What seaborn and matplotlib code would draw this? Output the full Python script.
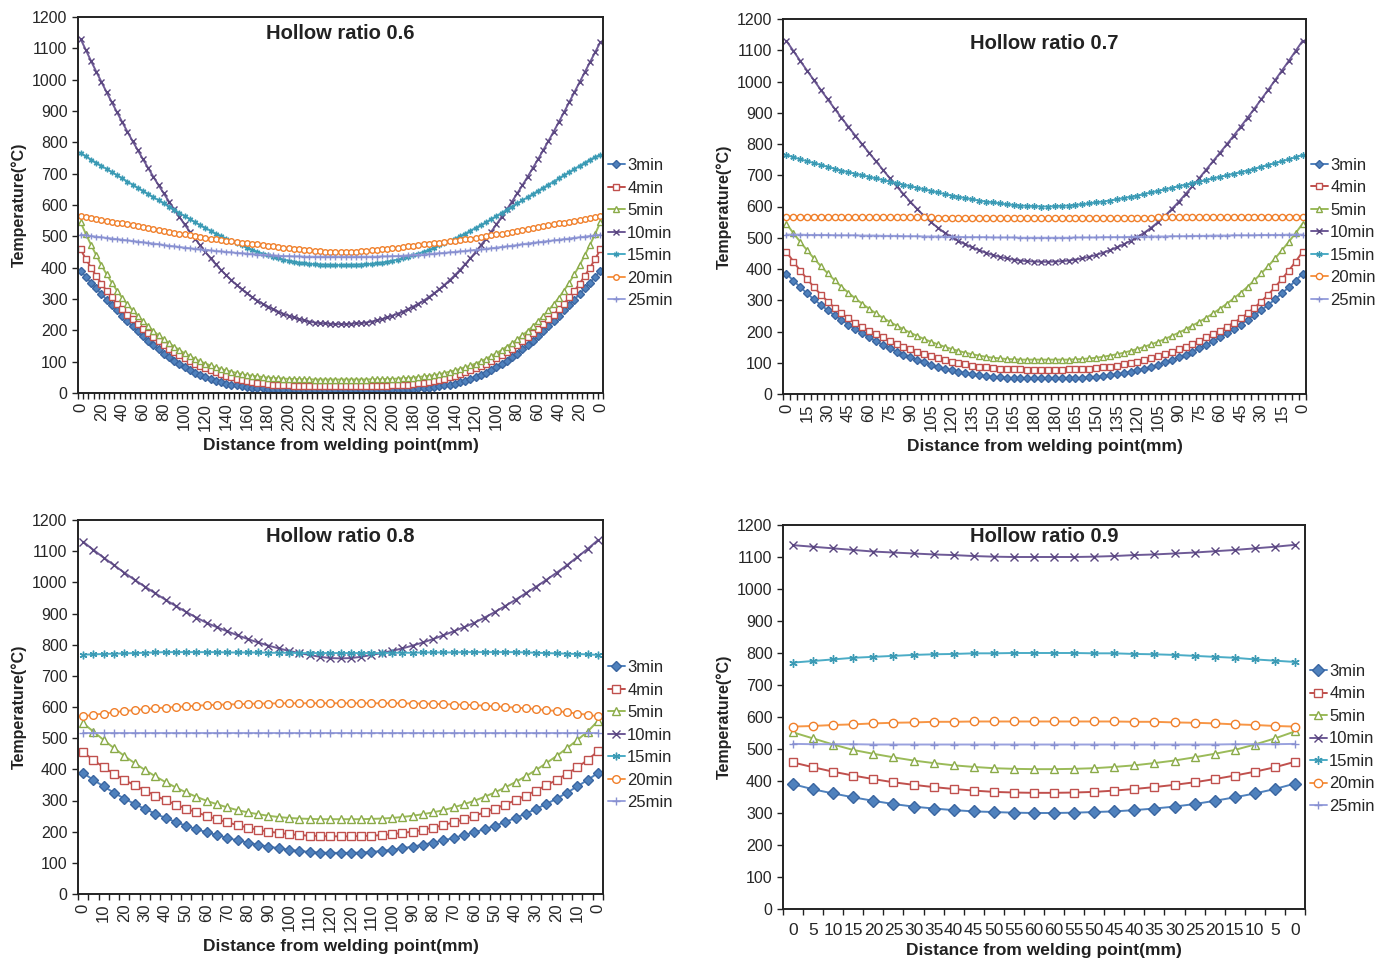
import matplotlib
matplotlib.use('Agg')
import matplotlib.pyplot as plt
import numpy as np
import seaborn as sns

times = ['3min', '4min', '5min', '10min', '15min', '20min', '25min']

# ---- Hollow ratio 0.6 (101 points, 5 mm step, 0..250..0) ----
r06_3 = [390, 371, 352, 334, 316, 298, 281, 264, 247, 230, 213, 197, 181, 166, 152, 139, 126, 114, 103, 92,
         82, 73, 65, 57, 50, 44, 39, 34, 30, 27, 24, 21, 19, 17, 16, 15, 14, 13, 13, 12, 12, 12, 11, 11, 11,
         11, 11, 11, 11, 11, 11, 11,
         11, 11, 11, 11, 11, 11, 11, 12, 12, 12, 13, 13, 14, 15, 16, 17, 19, 21, 24, 27, 30, 34, 39, 44, 50,
         57, 65, 73, 82, 92, 103, 114, 126, 139, 152, 166, 181, 197, 213, 230, 247, 264, 281, 298, 316, 334,
         352, 371, 390]
r06_4 = [458, 428, 400, 374, 349, 326, 305, 285, 267, 250, 235, 220, 205, 191, 178, 165, 153, 142, 131, 121,
         111, 102, 94, 86, 79, 72, 66, 60, 55, 50, 46, 42, 39, 36, 33, 31, 29, 27, 26, 25, 24, 23, 23, 22, 22,
         22, 21, 21, 21, 21, 21, 21,
         21, 21, 21, 22, 22, 22, 23, 23, 24, 25, 26, 27, 29, 31, 33, 36, 39, 42, 46, 50, 55, 60, 66, 72, 79,
         86, 94, 102, 111, 121, 131, 142, 153, 165, 178, 191, 205, 220, 235, 250, 267, 285, 305, 326, 349,
         374, 400, 428, 458]
r06_5 = [545, 508, 473, 440, 408, 379, 352, 327, 304, 283, 264, 246, 229, 213, 198, 184, 171, 159, 148, 137,
         127, 118, 109, 101, 94, 88, 82, 77, 72, 68, 64, 60, 57, 55, 53, 51, 49, 48, 47, 46, 45, 45, 44, 44,
         44, 43, 43, 43, 43, 43, 43, 43,
         43, 43, 43, 43, 44, 44, 44, 45, 45, 46, 47, 48, 49, 51, 53, 55, 57, 60, 64, 68, 72, 77, 82, 88, 94,
         101, 109, 118, 127, 137, 148, 159, 171, 184, 198, 213, 229, 246, 264, 283, 304, 327, 352, 379, 408,
         440, 473, 508, 545]
r06_10 = [1130, 1095, 1060, 1026, 993, 960, 928, 896, 865, 834, 804, 775, 746, 718, 690, 663, 637, 611, 586,
          562, 538, 515, 493, 471, 450, 430, 411, 393, 376, 360, 345, 331, 318, 306, 295, 285, 276, 268, 260,
          253, 247, 241, 236, 232, 228, 225, 223, 222, 221, 220, 220, 220,
          221, 222, 223, 225, 228, 232, 236, 241, 247, 253, 260, 268, 276, 285, 295, 306, 318, 331, 345, 360,
          376, 393, 411, 430, 450, 471, 493, 515, 538, 562, 586, 611, 637, 663, 690, 718, 746, 775, 804, 834,
          865, 896, 928, 960, 992, 1024, 1056, 1088, 1120]
r06_15 = [765, 755, 745, 735, 725, 715, 705, 695, 685, 675, 665, 655, 645, 635, 625, 615, 605, 595, 585, 575,
          565, 555, 545, 536, 527, 518, 509, 501, 493, 485, 478, 471, 464, 457, 451, 445, 440, 435, 430, 426,
          422, 419, 416, 414, 412, 411, 410, 409, 409, 408, 408, 408,
          409, 409, 410, 411, 412, 414, 416, 419, 422, 426, 430, 435, 440, 445, 451, 457, 464, 471, 478, 485,
          493, 501, 509, 518, 527, 536, 545, 555, 565, 575, 585, 595, 605, 615, 625, 635, 645, 655, 665, 675,
          685, 695, 705, 715, 725, 735, 745, 753, 760]
r06_20 = [565, 562, 559, 556, 553, 550, 547, 544, 541, 538, 535, 532, 529, 526, 523, 520, 517, 514, 511, 508,
          506, 503, 500, 498, 495, 493, 490, 488, 486, 484, 482, 480, 478, 476, 474, 472, 470, 468, 466, 464,
          462, 460, 458, 456, 455, 453, 452, 451, 450, 450, 450, 450,
          450, 451, 452, 453, 455, 456, 458, 460, 462, 464, 466, 468, 470, 472, 474, 476, 478, 480, 482, 484,
          486, 488, 490, 493, 495, 498, 500, 503, 506, 508, 511, 514, 517, 520, 523, 526, 529, 532, 535, 538,
          541, 544, 547, 550, 553, 556, 559, 562, 565]
r06_25 = [505, 503, 501, 499, 497, 495, 493, 491, 489, 487, 485, 483, 481, 479, 477, 475, 472, 470, 468, 466,
          464, 462, 460, 458, 456, 455, 453, 452, 450, 449, 447, 446, 445, 443, 442, 441, 440, 439, 438, 437,
          437, 436, 436, 435, 435, 435, 435, 435, 435, 435, 435, 435,
          435, 435, 435, 435, 435, 435, 436, 436, 437, 437, 438, 439, 440, 441, 442, 443, 445, 446, 447, 449,
          450, 452, 453, 455, 456, 458, 460, 462, 464, 466, 468, 470, 472, 475, 477, 479, 481, 483, 485, 487,
          489, 491, 493, 495, 497, 499, 501, 503, 505]
labels06 = ['0', '20', '40', '60', '80', '100', '120', '140', '160', '180', '200', '220', '240',
            '240', '220', '200', '180', '160', '140', '120', '100', '80', '60', '40', '20', '0']

# ---- Hollow ratio 0.7 (76 points, 5 mm step, 0..185 185..0) ----
r07_3 = [385, 363, 342, 322, 303, 285, 268, 252, 237, 222, 208, 194, 181, 169, 157, 146, 136, 126, 117, 109,
         101, 94, 87, 81, 76, 71, 67, 63, 60, 57, 55, 53, 52, 51, 50, 50, 50, 50,
         50, 50, 50, 50, 51, 52, 53, 55, 57, 60, 63, 67, 71, 76, 81, 87, 94, 101, 109, 117, 126, 136, 146, 157,
         169, 181, 194, 208, 222, 237, 252, 268, 285, 303, 322, 342, 363, 385]
r07_4 = [455, 424, 395, 368, 342, 318, 296, 276, 258, 242, 228, 215, 203, 192, 181, 171, 161, 152, 143, 135,
         128, 121, 115, 109, 104, 99, 95, 91, 88, 85, 83, 81, 80, 79, 79, 78, 78, 78,
         78, 78, 78, 79, 79, 80, 81, 83, 85, 88, 91, 95, 99, 104, 109, 115, 121, 128, 135, 143, 152, 161, 171,
         181, 192, 203, 215, 228, 242, 258, 276, 296, 318, 342, 368, 395, 424, 455]
r07_5 = [545, 515, 487, 460, 434, 409, 386, 364, 343, 324, 306, 289, 273, 258, 244, 231, 219, 207, 196, 186,
         176, 167, 159, 151, 144, 138, 132, 127, 123, 119, 116, 114, 112, 111, 110, 110, 110, 110,
         110, 110, 110, 110, 111, 112, 114, 116, 119, 123, 127, 132, 138, 144, 151, 159, 167, 176, 186, 196, 207,
         219, 231, 244, 258, 273, 289, 306, 324, 343, 364, 386, 409, 434, 460, 487, 515, 545]
r07_10 = [1130, 1098, 1066, 1035, 1004, 973, 943, 913, 884, 855, 827, 799, 772, 745, 718, 691, 665, 640, 615,
          592, 570, 550, 532, 516, 502, 490, 479, 469, 460, 452, 445, 439, 434, 430, 427, 425, 424, 423,
          423, 424, 425, 427, 430, 434, 439, 445, 452, 460, 469, 479, 490, 502, 516, 532, 550, 570, 592, 615, 640,
          665, 691, 718, 745, 772, 799, 827, 855, 884, 913, 943, 973, 1004, 1035, 1066, 1098, 1130]
r07_15 = [765, 758, 751, 745, 739, 733, 727, 721, 715, 710, 705, 700, 695, 690, 685, 680, 675, 670, 665, 660,
          655, 650, 645, 640, 635, 631, 627, 623, 619, 616, 613, 610, 607, 605, 603, 602, 601, 600,
          600, 601, 602, 603, 605, 607, 610, 613, 616, 619, 623, 627, 631, 635, 640, 645, 650, 655, 660, 665, 670,
          675, 680, 685, 690, 695, 700, 705, 710, 715, 721, 727, 733, 739, 745, 751, 758, 765]
r07_20 = [568, 568, 568, 568, 568, 568, 568, 567, 567, 567, 567, 567, 566, 566, 566, 566, 566, 565, 565, 565,
          565, 565, 564, 564, 564, 564, 564, 563, 563, 563, 563, 563, 562, 562, 562, 562, 562, 562,
          562, 562, 562, 562, 562, 562, 563, 563, 563, 563, 563, 564, 564, 564, 564, 564, 565, 565, 565, 565, 565,
          566, 566, 566, 566, 566, 567, 567, 567, 567, 567, 568, 568, 568, 568, 568, 568, 568]
r07_25 = [510, 510, 510, 509, 509, 509, 509, 508, 508, 508, 508, 507, 507, 507, 506, 506, 506, 505, 505, 505,
          504, 504, 504, 503, 503, 503, 502, 502, 502, 502, 501, 501, 501, 501, 500, 500, 500, 500,
          500, 500, 500, 500, 501, 501, 501, 501, 502, 502, 502, 502, 503, 503, 503, 504, 504, 504, 505, 505, 505,
          506, 506, 506, 507, 507, 507, 508, 508, 508, 508, 509, 509, 509, 509, 510, 510, 510]
labels07 = ['0', '15', '30', '45', '60', '75', '90', '105', '120', '135', '150', '165', '180',
            '180', '165', '150', '135', '120', '105', '90', '75', '60', '45', '30', '15', '0']

# ---- Hollow ratio 0.8 (51 points, 5 mm step, 0..125..0) ----
r08_3 = [388, 366, 345, 325, 306, 289, 273, 258, 244, 231, 219, 208, 198, 189, 180, 172, 165, 158, 152, 147,
         142, 138, 135, 133, 132, 132,
         132, 133, 135, 138, 142, 147, 152, 158, 165, 172, 180, 189, 198, 208, 219, 231, 244, 258, 273, 289,
         306, 325, 345, 366, 388]
r08_4 = [455, 430, 406, 386, 366, 349, 332, 316, 301, 287, 274, 262, 251, 240, 230, 221, 213, 206, 200, 196,
         192, 189, 187, 186, 185, 185,
         185, 186, 187, 189, 192, 196, 200, 206, 213, 221, 230, 240, 251, 262, 274, 287, 301, 316, 332, 349,
         366, 386, 406, 430, 458]
r08_5 = [548, 521, 494, 468, 443, 420, 398, 378, 359, 342, 326, 312, 299, 288, 278, 269, 262, 256, 251, 247,
         244, 242, 241, 240, 240, 240,
         240, 240, 241, 242, 244, 247, 251, 256, 262, 269, 278, 288, 299, 312, 326, 342, 359, 378, 398, 420,
         443, 468, 494, 521, 555]
r08_10 = [1130, 1104, 1079, 1055, 1031, 1008, 986, 965, 944, 924, 905, 887, 870, 856, 843, 830, 818, 807, 797,
          788, 780, 773, 767, 761, 757, 756,
          757, 761, 767, 773, 780, 788, 797, 807, 818, 830, 843, 856, 870, 887, 905, 924, 944, 965, 986, 1008,
          1031, 1055, 1081, 1107, 1135]
r08_15 = [768, 769, 770, 771, 772, 773, 774, 775, 776, 776, 776, 776, 776, 776, 775, 775, 775, 775, 774, 774,
          774, 773, 773, 773, 773, 773,
          773, 773, 773, 773, 774, 774, 774, 775, 775, 775, 775, 776, 776, 776, 776, 776, 776, 775, 774, 773,
          772, 771, 770, 769, 767]
r08_20 = [570, 575, 579, 583, 587, 590, 593, 596, 598, 600, 602, 604, 606, 607, 608, 609, 610, 611, 611, 612,
          612, 612, 612, 612, 612, 612,
          612, 612, 612, 612, 612, 612, 611, 611, 610, 609, 608, 607, 606, 604, 602, 600, 598, 596, 593, 590,
          587, 583, 579, 575, 570]
r08_25 = [515, 515, 515, 515, 515, 515, 515, 515, 515, 515, 515, 515, 515, 515, 515, 515, 515, 515, 515, 515,
          515, 515, 515, 515, 515, 515,
          515, 515, 515, 515, 515, 515, 515, 515, 515, 515, 515, 515, 515, 515, 515, 515, 515, 515, 515, 515,
          515, 515, 515, 515, 515]
labels08 = ['0', '10', '20', '30', '40', '50', '60', '70', '80', '90', '100', '110', '120',
            '120', '110', '100', '90', '80', '70', '60', '50', '40', '30', '20', '10', '0']

# ---- Hollow ratio 0.9 (26 points, 5 mm step, 0..60 60..0) ----
r09_3 = [390, 374, 361, 349, 338, 328, 320, 314, 309, 305, 303, 301, 300,
         300, 301, 303, 305, 309, 314, 320, 328, 338, 349, 361, 375, 392]
r09_4 = [458, 443, 429, 417, 406, 396, 388, 381, 375, 370, 366, 364, 363,
         363, 364, 366, 370, 375, 381, 388, 396, 406, 417, 429, 443, 460]
r09_5 = [552, 533, 514, 497, 485, 474, 464, 456, 449, 444, 440, 438, 437,
         437, 438, 440, 444, 449, 456, 464, 474, 485, 497, 514, 533, 555]
r09_10 = [1137, 1132, 1127, 1122, 1117, 1114, 1111, 1108, 1106, 1103, 1101, 1100, 1100,
          1100, 1100, 1101, 1103, 1106, 1108, 1111, 1114, 1118, 1122, 1127, 1132, 1138]
r09_15 = [770, 775, 780, 785, 788, 791, 794, 796, 797, 799, 799, 800, 800,
          800, 800, 799, 799, 797, 796, 794, 791, 788, 785, 780, 776, 772]
r09_20 = [570, 572, 575, 577, 580, 582, 583, 585, 585, 586, 586, 586, 586,
          586, 586, 586, 586, 585, 585, 583, 582, 580, 577, 575, 572, 570]
r09_25 = [516, 515, 515, 515, 514, 514, 514, 514, 514, 514, 514, 514, 514,
          514, 514, 514, 514, 514, 514, 514, 514, 514, 515, 515, 515, 516]
labels09 = ['0', '5', '10', '15', '20', '25', '30', '35', '40', '45', '50', '55', '60',
            '60', '55', '50', '45', '40', '35', '30', '25', '20', '15', '10', '5', '0']

# line colour, marker, marker face, marker edge
styles = {
    '3min':  ('#4F81BD', 'D', '#4F81BD', '#3A65A0'),
    '4min':  ('#C0504D', 's', 'white', '#C0504D'),
    '5min':  ('#9BBB59', '^', 'white', '#8AAA48'),
    '10min': ('#6E5A96', 'x', '#6E5A96', '#5A4680'),
    '15min': ('#4BACC6', (6, 2, 0), '#4BACC6', '#3B9AB4'),
    '20min': ('#F79646', 'o', 'white', '#F07F2A'),
    '25min': ('#9AA2DE', '+', '#9AA2DE', '#8890D0'),
}

sns.set_style('ticks')
plt.rcParams['font.family'] = ['Liberation Sans', 'DejaVu Sans']

W, H = 1385, 958
fig = plt.figure(figsize=(W / 100, H / 100), dpi=100)

panels = [
    # title, series, labels, label step, (left, top, right, bottom) px, marker size, rotation,
    # title y, legend y, tick pad, label pad
    ('Hollow ratio 0.6', [r06_3, r06_4, r06_5, r06_10, r06_15, r06_20, r06_25], labels06, 4,
     (78, 17, 603, 393), 4.0, 90, 0.957, 0.425, 7, 5),
    ('Hollow ratio 0.7', [r07_3, r07_4, r07_5, r07_10, r07_15, r07_20, r07_25], labels07, 3,
     (783, 19, 1306, 394), 4.5, 90, 0.936, 0.43, 7, 5),
    ('Hollow ratio 0.8', [r08_3, r08_4, r08_5, r08_10, r08_15, r08_20, r08_25], labels08, 2,
     (78, 520, 603, 894), 5.5, 90, 0.957, 0.425, 7, 5),
    ('Hollow ratio 0.9', [r09_3, r09_4, r09_5, r09_10, r09_15, r09_20, r09_25], labels09, 1,
     (783, 525, 1305, 909), 6.0, 0, 0.971, 0.443, 10, 4),
]

for title, series, labels, step, (l, t, r, b), ms, rot, ty, ly, tpad, lpad in panels:
    ax = fig.add_axes([l / W, 1 - b / H, (r - l) / W, (b - t) / H])
    n = len(series[0])
    x = np.arange(n)
    for name, vals in zip(times, series):
        c, m, mfc, mec = styles[name]
        sns.lineplot(x=x, y=vals, ax=ax, color=c, marker=m, markersize=ms,
                     markerfacecolor=mfc, markeredgecolor=mec, markeredgewidth=1.0,
                     linewidth=1.4, label=name)
    ax.set_xlim(-0.5, n - 0.5)
    ax.set_ylim(0, 1200)
    ax.set_yticks(np.arange(0, 1201, 100))
    ax.set_xticks(np.arange(0, n, step))
    ax.set_xticklabels(labels, rotation=rot, fontsize=12 if rot else 12.5)
    ax.set_xticks(np.arange(-0.5, n, 1), minor=True)
    ax.tick_params(axis='x', which='major', length=0, pad=tpad)
    ax.tick_params(axis='x', which='minor', length=4, width=1, direction='out', color='#222222')
    ax.tick_params(axis='y', length=4, width=1, direction='out', labelsize=11.5, color='#222222')
    for sp in ax.spines.values():
        sp.set_visible(True)
        sp.set_linewidth(1.4)
        sp.set_color('#222222')
    ax.set_xlabel('Distance from welding point(mm)', fontsize=12.5, fontweight='bold',
                  labelpad=lpad, color='#222222')
    ax.set_ylabel('Temperature(°C)', fontsize=11.5, fontweight='bold', labelpad=4, color='#222222')
    ax.text(0.5, ty, title, transform=ax.transAxes, ha='center', va='center',
            fontsize=14.5, fontweight='bold', color='#222222')
    handles, names = ax.get_legend_handles_labels()
    ax.legend(handles, names, loc='center left', bbox_to_anchor=(1.0, ly), frameon=False,
              fontsize=12, handlelength=1.0, handletextpad=0.15, labelspacing=0.45,
              borderaxespad=0.2, borderpad=0.1, markerscale=1.0)

fig.savefig('out.png', dpi=100, facecolor='white')
